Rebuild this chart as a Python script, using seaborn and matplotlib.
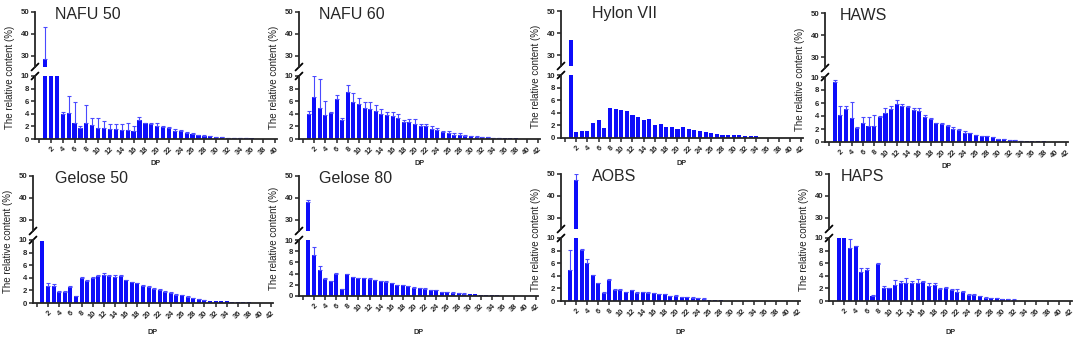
import numpy as np
import matplotlib
matplotlib.use("Agg")
import matplotlib.pyplot as plt
import seaborn as sns

# ---------------- data ----------------
panel_names = ["NAFU 50", "NAFU 60", "Hylon VII", "HAWS",
               "Gelose 50", "Gelose 80", "AOBS", "HAPS"]

nafu50_mean = [28.5, 14.0, 12.0, 4.0, 4.1, 2.6, 1.7, 2.6, 2.3, 1.8, 1.7, 1.6, 1.6, 1.4, 1.4, 1.3,
               3.0, 2.5, 2.4, 2.1, 1.9, 1.7, 1.3, 1.3, 1.0, 0.8, 0.6, 0.5, 0.4, 0.3, 0.25, 0.2,
               0.15, 0.15, 0.1, 0.08, 0.05, 0.05, 0.03, 0.02]
nafu50_sd = [14.5, 0, 0, 0.3, 2.7, 3.2, 0.4, 2.8, 1.1, 1.6, 1.1, 0.8, 0.8, 1.0, 1.1, 0.8,
             0.5, 0.1, 0.2, 0.5, 0.2, 0.2, 0.3, 0.2, 0.1, 0.2, 0.1, 0.2, 0.1, 0.05, 0.05, 0.03,
             0.03, 0.03, 0.02, 0, 0, 0, 0, 0]

nafu60_mean = [3.9, 6.7, 5.0, 3.8, 4.1, 6.3, 3.0, 7.4, 5.9, 5.5, 5.0, 4.8, 4.4, 4.0, 3.8, 3.7,
               3.3, 2.7, 2.7, 2.4, 2.0, 2.0, 1.6, 1.4, 1.1, 0.95, 0.7, 0.7, 0.55, 0.45, 0.35,
               0.3, 0.25, 0.2, 0.15, 0.12, 0.1, 0.08, 0.05, 0.04, 0.02, 0.01]
nafu60_sd = [0.6, 3.3, 4.5, 2.3, 0.2, 0.7, 0.4, 1.1, 1.4, 1.0, 0.9, 1.1, 1.0, 0.8, 0.5, 0.6,
             0.7, 0.3, 0.4, 0.7, 0.4, 0.4, 0.4, 0.4, 0.2, 0.25, 0.2, 0.2, 0.15, 0.1, 0.05,
             0.05, 0.05, 0.03, 0.03, 0, 0, 0, 0, 0, 0, 0]

hylon7_mean = [36.8, 1.0, 1.1, 1.1, 2.4, 2.9, 1.6, 4.7, 4.6, 4.4, 4.3, 3.7, 3.4, 2.8, 3.0, 2.1,
               2.3, 1.8, 1.8, 1.5, 1.7, 1.4, 1.3, 1.1, 0.9, 0.8, 0.7, 0.55, 0.55, 0.45, 0.4,
               0.35, 0.3, 0.28, 0.05, 0.04, 0.03, 0.02, 0.02, 0.01, 0.01, 0.01]
hylon7_sd = [0] * 42

haws_mean = [9.2, 4.1, 5.1, 3.7, 2.2, 2.9, 2.4, 2.5, 3.9, 4.4, 5.1, 5.9, 5.6, 5.4, 5.0, 4.8,
             3.9, 3.5, 2.9, 2.8, 2.5, 2.0, 1.9, 1.4, 1.4, 1.1, 0.9, 0.85, 0.75, 0.5, 0.45,
             0.35, 0.3, 0.2, 0.15, 0.12, 0.1, 0.08, 0.06, 0.05, 0.03, 0.02]
haws_sd = [0.3, 1.4, 0.5, 2.4, 0.1, 0.9, 1.4, 1.7, 0.1, 0.8, 0.5, 0.5, 0.2, 0.1, 0.2, 0.4,
           0.2, 0.2, 0.1, 0.05, 0.1, 0.3, 0.1, 0.3, 0.05, 0.05, 0.05, 0.05, 0.05, 0.03, 0.03,
           0.03, 0.03, 0.02, 0, 0, 0, 0, 0, 0, 0, 0]

gelose50_mean = [9.9, 2.7, 2.7, 1.8, 1.7, 2.6, 1.1, 4.0, 3.5, 4.0, 4.3, 4.4, 4.3, 4.2, 4.3, 3.6,
                 3.3, 3.1, 2.7, 2.6, 2.3, 2.1, 1.8, 1.6, 1.3, 1.2, 1.0, 0.8, 0.6, 0.4, 0.35,
                 0.35, 0.3, 0.25, 0.22, 0.15, 0.1, 0.08, 0.05, 0.03, 0.02, 0.01]
gelose50_sd = [0, 0.5, 0.3, 0.1, 0.2, 0.05, 0.05, 0.05, 0.1, 0.05, 0.2, 0.3, 0.1, 0.2, 0.1, 0.1,
               0.1, 0.05, 0.1, 0.1, 0.05, 0.05, 0.05, 0.1, 0.05, 0.1, 0.05, 0.05, 0.1, 0.03,
               0, 0, 0, 0, 0, 0, 0, 0, 0, 0, 0, 0]

gelose80_mean = [38.0, 7.4, 4.7, 3.0, 2.7, 3.9, 1.2, 3.9, 3.4, 3.2, 3.2, 3.0, 2.8, 2.6, 2.5, 2.3,
                 2.0, 1.9, 1.7, 1.4, 1.4, 1.3, 1.1, 1.0, 0.75, 0.65, 0.6, 0.45, 0.4, 0.35, 0.3,
                 0.2, 0.18, 0.15, 0.12, 0.05, 0.04, 0.03, 0.02, 0.02, 0.01, 0.01]
gelose80_sd = [1.0, 1.3, 0.7, 0.2, 0.05, 0.2, 0.05, 0.1, 0.05, 0.05, 0.05, 0.2, 0.05, 0.05, 0.2,
               0.05, 0.05, 0.05, 0.05, 0.2, 0.05, 0.1, 0.05, 0.1, 0.05, 0.05, 0.1, 0.05, 0.05,
               0, 0, 0, 0, 0, 0, 0, 0, 0, 0, 0, 0, 0]

aobs_mean = [5.0, 47.5, 8.1, 6.1, 4.1, 2.8, 1.3, 3.4, 1.8, 1.8, 1.4, 1.7, 1.3, 1.35, 1.3, 1.2,
             1.1, 1.1, 0.8, 0.85, 0.6, 0.65, 0.55, 0.45, 0.35, 0.2, 0.2, 0.15, 0.05, 0.04, 0.03,
             0.03, 0.02, 0.02, 0.02, 0.01, 0.01, 0.01, 0.01, 0.01, 0.01, 0.01]
aobs_sd = [3.1, 2.3, 0.1, 0.5, 0.05, 0.1, 0.05, 0.1, 0.1, 0.05, 0.05, 0.1, 0.05, 0.05, 0.05,
           0.05, 0.05, 0.05, 0.05, 0.1, 0.05, 0.05, 0.05, 0.05, 0.05, 0, 0, 0, 0, 0, 0, 0, 0,
           0, 0, 0, 0, 0, 0, 0, 0, 0]

haps_mean = [12.0, 11.0, 8.4, 8.7, 4.6, 4.9, 0.8, 5.9, 2.1, 2.0, 2.5, 2.8, 2.8, 2.8, 2.8, 3.0,
             2.4, 2.5, 1.9, 2.0, 1.7, 1.4, 1.5, 1.0, 0.9, 0.75, 0.55, 0.5, 0.5, 0.35, 0.3, 0.2,
             0, 0, 0, 0, 0, 0, 0, 0, 0, 0]
haps_sd = [0, 0, 1.5, 0.1, 0.6, 0.4, 0.1, 0.1, 0.3, 0.1, 0.9, 0.4, 0.9, 0.3, 0.7, 0.2, 0.4,
           0.3, 0.1, 0.3, 0.2, 0.5, 0.1, 0.1, 0.2, 0.05, 0.05, 0.05, 0.05, 0.03, 0.03, 0.1,
           0, 0, 0, 0, 0, 0, 0, 0, 0, 0]

means = [nafu50_mean, nafu60_mean, hylon7_mean, haws_mean,
         gelose50_mean, gelose80_mean, aobs_mean, haps_mean]
sds = [nafu50_sd, nafu60_sd, hylon7_sd, haws_sd,
       gelose50_sd, gelose80_sd, aobs_sd, haps_sd]
x_max = [40, 42, 42, 42, 42, 42, 42, 42]
upper_ticks = [30, 40, 50]
lower_ticks = [0, 2, 4, 6, 8, 10]

# ---------------- layout (pixels) ----------------
W, H = 1080, 343
# left, right, y(50), y(10), y(0), title x offset, DP label y
layout = [
    (35, 277, 12, 76, 139, 20, 164),
    (299, 540, 12, 76, 139, 20, 164),
    (561, 803, 11, 75, 138, 31, 164),
    (825, 1068, 13, 77, 142, 15, 166),
    (33, 273, 176, 240, 303, 22, 333),
    (299, 538, 176, 240, 296, 20, 333),
    (561, 800, 174, 238, 301, 31, 333),
    (829, 1072, 174, 238, 301, 12, 333),
]

BLUE = "#0d0dfa"
ERR = "#4a4aff"

sns.set_style("ticks")
plt.rcParams["font.family"] = ["Liberation Sans", "DejaVu Sans"]

fig = plt.figure(figsize=(W / 100, H / 100), dpi=100)


def fx(px):
    return px / W


def fy(py):
    return 1 - py / H


for i in range(8):
    l, r, y50, y10, y0, toff, dpy = layout[i]
    mean = np.array(means[i], dtype=float)
    sd = np.array(sds[i], dtype=float)
    dp = np.arange(1, len(mean) + 1)
    xm = x_max[i]
    up_h = 55  # 25 units of upper segment
    ax_top = fig.add_axes([fx(l), fy(y50 + up_h), (r - l) / W, up_h / H])
    ax_bot = fig.add_axes([fx(l), fy(y0), (r - l) / W, (y0 - y10) / H])

    for ax, lim in ((ax_top, (25, 50)), (ax_bot, (0, 10))):
        sns.barplot(x=dp, y=mean, native_scale=True, color=BLUE, saturation=1,
                    width=0.72, errorbar=None, ax=ax, linewidth=0)
        m = sd > 0
        ax.errorbar(dp[m], mean[m], yerr=[np.zeros(m.sum()), sd[m]], fmt="none",
                    ecolor=ERR, elinewidth=0.8, capsize=1.3, capthick=0.8)
        ax.set_xlim(-0.7, xm + 0.3)
        ax.set_ylim(*lim)
        ax.set_xlabel("")
        ax.set_ylabel("")
        for s in ("top", "right"):
            ax.spines[s].set_visible(False)
        ax.spines["left"].set_linewidth(1.3)
        ax.spines["bottom"].set_linewidth(1.3)
        ax.tick_params(axis="both", direction="out", length=3, width=1.1, pad=1,
                       labelsize=5.6)

    ax_top.spines["bottom"].set_visible(False)
    ax_top.set_xticks([])
    ax_top.set_yticks(upper_ticks)
    ax_top.set_yticklabels([str(t) for t in upper_ticks], fontweight="bold")

    ax_bot.set_yticks(lower_ticks)
    ax_bot.set_yticklabels([str(t) for t in lower_ticks], fontweight="bold")
    xt = list(range(0, xm + 1, 2))
    ax_bot.set_xticks(xt)
    ax_bot.set_xticklabels(["" if t == 0 else str(t) for t in xt], rotation=45,
                           ha="right", rotation_mode="anchor", fontweight="bold",
                           fontsize=5.4)
    ax_bot.tick_params(axis="x", pad=2.0)

    # break marks
    d = 3.5
    wpx = r - l
    for ax, yy, hpx in ((ax_top, 0, up_h), (ax_bot, 1, y0 - y10)):
        ax.plot([-d / wpx, d / wpx], [yy - d / hpx, yy + d / hpx], transform=ax.transAxes,
                color="black", lw=1.3, clip_on=False)

    # texts
    fig.text(fx(l + toff), fy(y50 - 5), panel_names[i], fontsize=11.5, va="top", ha="left")
    fig.text(fx(l - 25), fy((y50 + y0) / 2 + 2), "The relative content (%)", rotation=90,
             fontsize=7, va="center", ha="center", color="#222222")
    fig.text(fx((l + r) / 2), fy(dpy), "DP", fontsize=5.2, fontweight="bold",
             va="center", ha="center")

fig.savefig("out.png", dpi=100)
